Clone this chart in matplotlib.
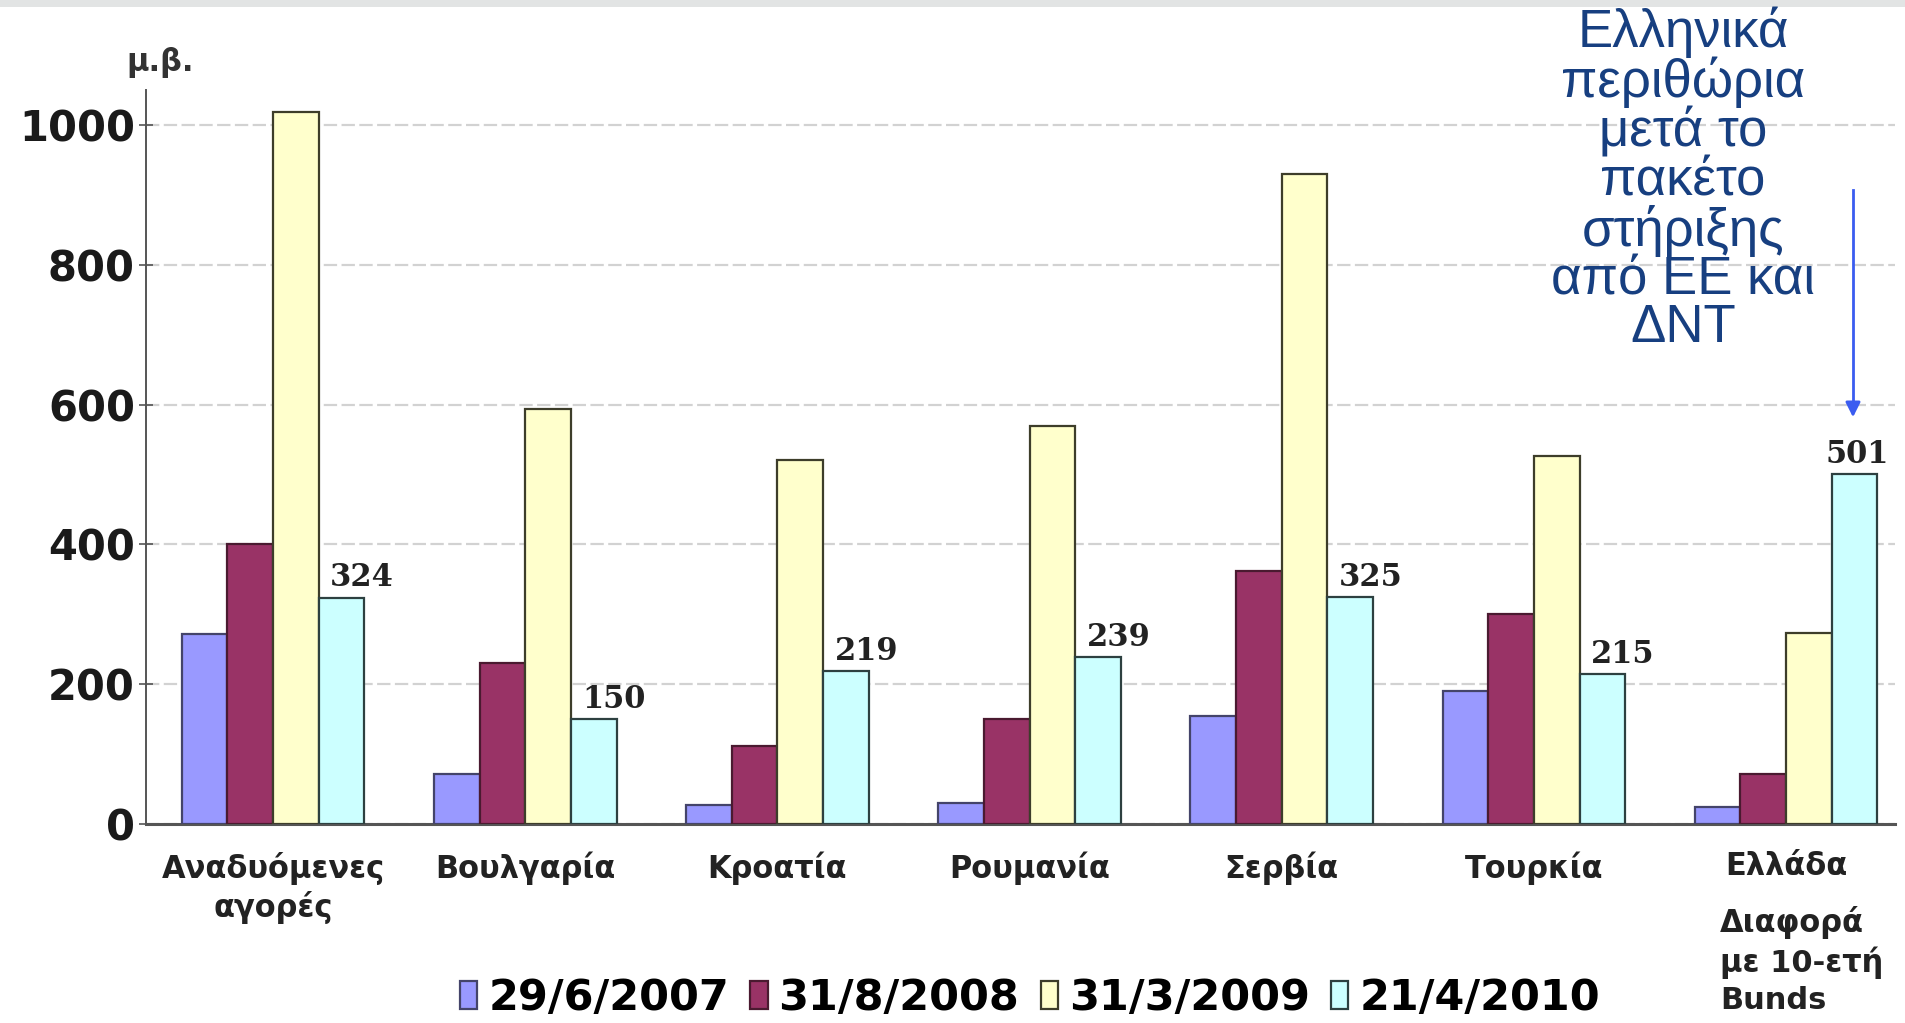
import matplotlib.pyplot as plt
from matplotlib.patches import Rectangle
import numpy as np

# categories and series (basis points)
categories = ["Αναδυόμενες\nαγορές", "Βουλγαρία", "Κροατία", "Ρουμανία",
              "Σερβία", "Τουρκία", "Ελλάδα"]
series_names = ["29/6/2007", "31/8/2008", "31/3/2009", "21/4/2010"]
vals_2007 = [272, 72, 27, 30, 155, 190, 25]
vals_2008 = [401, 230, 112, 150, 362, 301, 72]
vals_2009 = [1019, 593, 521, 569, 930, 526, 273]
vals_2010 = [324, 150, 219, 239, 325, 215, 501]
yticks = [0, 200, 400, 600, 800, 1000]

colors = ["#9999ff", "#993366", "#ffffcc", "#ccffff"]
edges = ["#44446a", "#4a1a30", "#3d3d2a", "#2d4040"]

fig = plt.figure(figsize=(19.05, 10.23), dpi=100)
W, H = 1905, 1023
ax = fig.add_axes([146 / W, (H - 824) / H, (1895 - 146) / W, (824 - 90) / H])

# top grey strip
fig.patches.append(Rectangle((0, 1 - 7 / H), 1, 7 / H, transform=fig.transFigure,
                             facecolor="#e2e4e4", edgecolor="none"))

x = np.arange(len(categories))
w = 0.181
data = [vals_2007, vals_2008, vals_2009, vals_2010]
for k, vals in enumerate(data):
    ax.bar(x + (k - 1.5) * w, vals, width=w, color=colors[k], edgecolor=edges[k],
           linewidth=1.6, label=series_names[k], zorder=3)

# value labels on last series
for i, v in enumerate(vals_2010):
    off = 0.45 * w if i < len(vals_2010) - 1 else 0.05 * w
    ax.text(x[i] + 1.5 * w + off, v + 6, str(v), ha="center", va="bottom",
            fontsize=22, fontweight="bold", family="DejaVu Serif", color="#222222")

ax.set_xlim(-0.504, 6.432)
ax.set_ylim(0, 1050)
ax.set_yticks(yticks)
ax.set_yticklabels([str(t) for t in yticks], fontsize=30, fontweight="bold", color="#1a1a1a")
ax.yaxis.grid(True, color="#d2d2d2", linewidth=1.6, linestyle=(0, (6, 2)), zorder=0)
ax.tick_params(axis="y", direction="inout", length=10, width=1.2, colors="#555555",
               labelcolor="#1a1a1a", pad=3)
ax.set_xticks(x)
ax.set_xticklabels(categories, fontsize=22, fontweight="bold", color="#222222",
                   linespacing=1.25)
ax.tick_params(axis="x", length=0, pad=20)
for s in ["top", "right"]:
    ax.spines[s].set_visible(False)
ax.spines["left"].set_color("#555555")
ax.spines["left"].set_linewidth(1.4)
ax.spines["bottom"].set_color("#555555")
ax.spines["bottom"].set_linewidth(2.2)

fig.text(126 / W, 1 - 62 / H, "μ.β.", fontsize=22, fontweight="bold",
         color="#333333", va="center", ha="left")

# note under Greece
fig.text(1720 / W, 1 - 906 / H, "Διαφορά\nμε 10-ετή\nBunds", fontsize=22,
         fontweight="bold", color="#222222", va="top", ha="left", linespacing=1.3)

# legend
fig.legend(loc="center", bbox_to_anchor=(1030 / W, 1 - 998 / H), ncol=4,
           frameon=False, prop={"weight": "bold", "size": 31},
           handlelength=0.4, handleheight=0.65, handletextpad=0.25, columnspacing=0.5,
           borderpad=0.1)

# annotation
fig.text(1683 / W, 1 - 7 / H,
         "Ελληνικά\nπεριθώρια\nμετά το\nπακέτο\nστήριξης\nαπό ΕΕ και\nΔΝΤ",
         fontsize=38, family="Liberation Sans", color="#173f80", ha="center",
         va="top", linespacing=0.96)
fig.patches.append(plt.Line2D([1853 / W, 1853 / W], [1 - 190 / H, 1 - 405 / H],
                              transform=fig.transFigure, color="#3a5cf0", linewidth=2))
ax.annotate("", xy=(1853 / W, 1 - 420 / H), xytext=(1853 / W, 1 - 400 / H),
            xycoords="figure fraction", textcoords="figure fraction",
            arrowprops=dict(arrowstyle="-|>", color="#3a5cf0", lw=2, mutation_scale=22))

fig.savefig("out.png", dpi=100)
